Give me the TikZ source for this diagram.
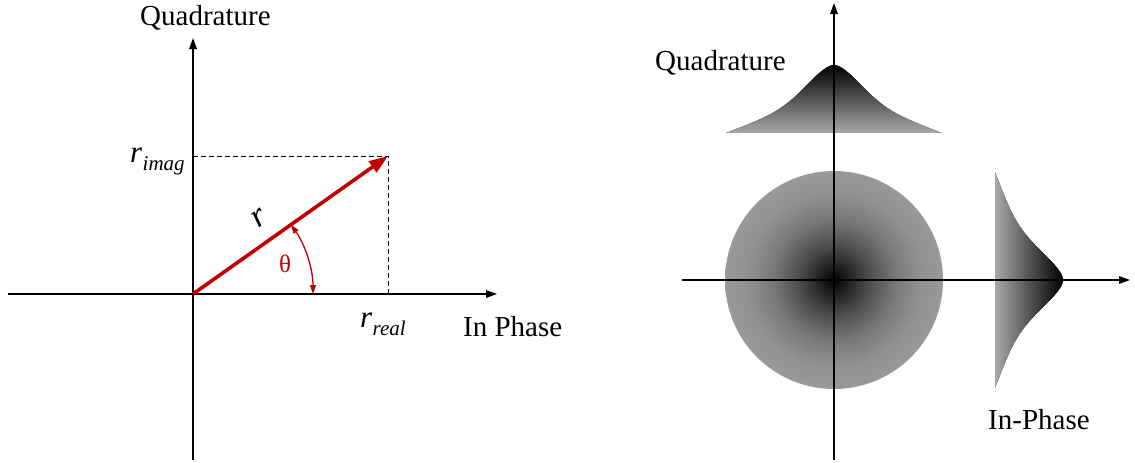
\documentclass[tikz,border=0pt]{standalone}
\usepackage{fontspec}
\setmainfont{Liberation Serif}
\usetikzlibrary{arrows.meta}
\definecolor{vecred}{RGB}{192,0,0}
\definecolor{edgegray}{RGB}{153,153,153}
\definecolor{bellgray}{RGB}{168,168,168}
\pgfdeclareradialshading{discshade}{\pgfpointorigin}{color(0bp)=(black); color(3bp)=(black!88!white); color(8bp)=(black!70!white); color(14bp)=(black!53!white); color(20bp)=(black!43!white); color(25bp)=(edgegray); color(50bp)=(edgegray)}
\begin{document}
\begin{tikzpicture}[x=1pt,y=-1pt,
  declare function={bell(\t)=40*(1-(sqrt(\t*\t+25)-5)/103.12)+28*exp(-(\t/38)^2);},
  axis/.style={line width=1.4pt,-{Triangle[length=11pt,width=7.5pt]}},
  guide/.style={line width=1pt,dash pattern=on 5pt off 3pt},
  vec/.style={line width=3.6pt,vecred,-{Triangle[length=19pt,width=13pt]}},
  anglearc/.style={line width=1.3pt,vecred,{Triangle[length=9pt,width=6pt]}-{Triangle[length=9pt,width=6pt]}},
  lab/.style={font=\fontsize{29}{34}\selectfont,inner sep=0pt},
  sym/.style={font=\fontsize{31}{36}\selectfont\itshape,inner sep=0pt},
  sub/.style={font=\fontsize{21}{24}\selectfont\itshape,inner sep=0pt}]
\useasboundingbox (0,0) rectangle (1135,463);
% ---------- left diagram ----------
\coordinate (O) at (193,294);
\coordinate (Ybot) at (193,460);
\coordinate (Ytop) at (193,38);
\coordinate (Xleft) at (8,294);
\coordinate (Xright) at (497,294);
\coordinate (P) at (388,156);
\coordinate (Yi) at (193,156);
\coordinate (Xr) at (388,294);
\coordinate (A0) at (313,294);
\draw[guide] (Yi) -- (P) -- (Xr);
\draw[axis] (Ybot) -- (Ytop);
\draw[axis] (Xleft) -- (Xright);
\draw[vec] (O) -- (P);
\draw[anglearc] (A0) arc[start angle=0,end angle=35.3,radius=120pt];
\node[lab,anchor=base west] (qL) at (140,25) {Quadrature};
\node[lab,anchor=base west] (ipL) at (463,336) {In Phase};
\node[sym,anchor=base west] (ri) at (130,162) {r};
\node[sub,anchor=base west] (risub) at (ri.base east) [yshift=-8pt] {imag};
\node[sym,anchor=base west] (rr) at (360,327) {r};
\node[sub,anchor=base west] (rrsub) at (rr.base east) [yshift=-8pt] {real};
\node[sym,rotate=35,font=\fontsize{34}{38}\selectfont\itshape] (rlab) at (259,218) {r};
\node[lab,text=vecred,font=\fontsize{25}{28}\selectfont] (th) at (285,264) {θ};
% ---------- right diagram ----------
\coordinate (C) at (834,280);
\shade[shading=discshade] (C) circle[radius=109pt];
% quadrature bell (base y=133, centre x=834)
\fill[top color=black,bottom color=bellgray]
  plot[domain=-108:108,samples=145,smooth] ({834+\x},{133-bell(\x)}) -- cycle;
% in-phase bell (base x=995, centre y=280)
\fill[left color=bellgray,right color=black]
  plot[domain=-108:108,samples=145,smooth] ({995+bell(\x)},{280+\x}) -- cycle;
\coordinate (Vb) at (834,460);
\coordinate (Vt) at (834,3);
\coordinate (Hl) at (682,280);
\coordinate (Hr) at (1130,280);
\draw[axis] (Vb) -- (Vt);
\draw[axis] (Hl) -- (Hr);
\node[lab,anchor=base west] (qR) at (655,70) {Quadrature};
\node[lab,anchor=base west] (ipR) at (988,429) {In-Phase};
\end{tikzpicture}
\end{document}
